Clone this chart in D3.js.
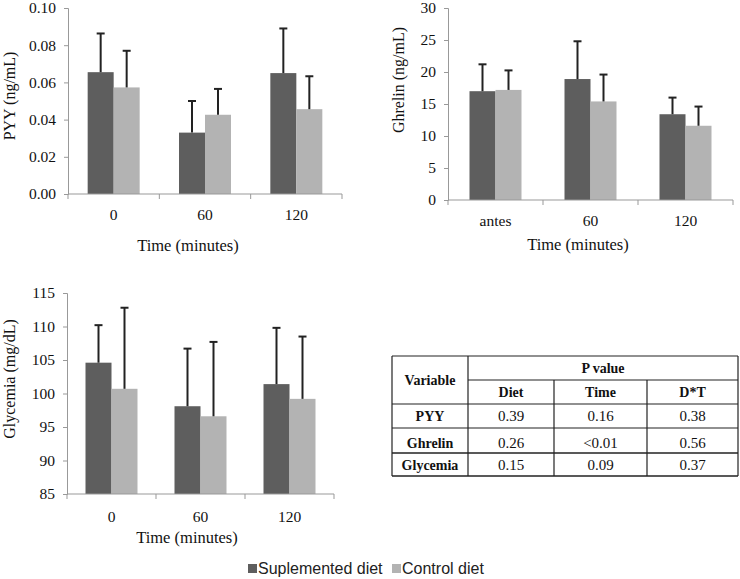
<!DOCTYPE html>
<html><head><meta charset="utf-8">
<script src="https://cdn.jsdelivr.net/npm/d3@7"></script>
<style>body{margin:0;background:#fff}svg{display:block}</style>
</head><body>
<svg id="c" width="740" height="579"></svg>
<script>
// ---- data ----
const series = ["Suplemented diet", "Control diet"];
const colors = ["#5e5e5e", "#b3b3b3"];

const pyyCats = ["0", "60", "120"];
const pyySupp = [0.0655, 0.033, 0.065];
const pyySuppErr = [0.0208, 0.017, 0.024];
const pyyCtrl = [0.0573, 0.0426, 0.0456];
const pyyCtrlErr = [0.0197, 0.0139, 0.0177];
const pyyTicks = [0, 0.02, 0.04, 0.06, 0.08, 0.10];

const ghrCats = ["antes", "60", "120"];
const ghrSupp = [17.0, 18.9, 13.4];
const ghrSuppErr = [4.2, 5.9, 2.6];
const ghrCtrl = [17.2, 15.4, 11.6];
const ghrCtrlErr = [3.05, 4.2, 3.0];
const ghrTicks = [0, 5, 10, 15, 20, 25, 30];

const glyCats = ["0", "60", "120"];
const glySupp = [104.6, 98.1, 101.4];
const glySuppErr = [5.6, 8.6, 8.4];
const glyCtrl = [100.7, 96.6, 99.2];
const glyCtrlErr = [12.1, 11.1, 9.3];
const glyTicks = [85, 90, 95, 100, 105, 110, 115];

const tableVars = ["PYY", "Ghrelin", "Glycemia"];
const tableCols = ["Diet", "Time", "D*T"];
const pDiet = ["0.39", "0.26", "0.15"];
const pTime = ["0.16", "<0.01", "0.09"];
const pDT = ["0.38", "0.56", "0.37"];

// ---- drawing ----
const svg = d3.select("#c");
const serif = "'Liberation Serif', 'Times New Roman', serif";

function chart(o) {
  const g = svg.append("g");
  const x = d3.scaleBand().domain(o.cats).range([o.x0, o.x1]).paddingInner(0).paddingOuter(0);
  const y = d3.scaleLinear().domain(o.domain).range([o.yb, o.yt]);
  const bw = 26;
  const sub = d3.scaleBand().domain([0, 1]).range([0, 2 * bw]);
  const data = [];
  o.cats.forEach((c, i) => {
    data.push({c, s: 0, v: o.a[i], e: o.ae[i]});
    data.push({c, s: 1, v: o.b[i], e: o.be[i]});
  });
  const bx = d => x(d.c) + x.bandwidth() / 2 - bw + sub(d.s);
  g.selectAll("rect.bar").data(data).join("rect")
    .attr("x", bx).attr("width", bw)
    .attr("y", d => y(d.v)).attr("height", d => y(o.domain[0]) - y(d.v))
    .attr("fill", d => colors[d.s]);
  // error bars
  const eb = g.selectAll("g.err").data(data).join("g");
  eb.append("line").attr("x1", d => bx(d) + bw / 2).attr("x2", d => bx(d) + bw / 2)
    .attr("y1", d => y(d.v)).attr("y2", d => y(d.v + d.e))
    .attr("stroke", "#222").attr("stroke-width", 2);
  eb.append("line").attr("x1", d => bx(d) + bw / 2 - 4).attr("x2", d => bx(d) + bw / 2 + 4)
    .attr("y1", d => y(d.v + d.e)).attr("y2", d => y(d.v + d.e))
    .attr("stroke", "#222").attr("stroke-width", 2);
  // y axis
  const ya = g.append("g").attr("transform", `translate(${o.x0},0)`)
    .call(d3.axisLeft(y).tickValues(o.ticks).tickFormat(o.fmt).tickSize(4).tickPadding(8));
  ya.select(".domain").attr("stroke", "#999");
  ya.selectAll(".tick line").attr("stroke", "#999");
  ya.selectAll(".tick text").attr("font-family", serif).attr("font-size", 15.5).attr("fill", "#111");
  // x axis
  const xa = g.append("g").attr("transform", `translate(0,${o.yb})`);
  xa.append("line").attr("x1", o.x0).attr("x2", o.x1).attr("stroke", "#999");
  const bounds = o.cats.map(c => x(c)).concat([o.x1]);
  xa.selectAll("line.t").data(bounds).join("line")
    .attr("x1", d => d).attr("x2", d => d).attr("y1", 0).attr("y2", 5).attr("stroke", "#999");
  xa.selectAll("text").data(o.cats).join("text")
    .attr("x", c => x(c) + x.bandwidth() / 2).attr("y", o.xly - o.yb)
    .attr("text-anchor", "middle").attr("font-family", serif).attr("font-size", 15.5).attr("fill", "#111")
    .text(c => c);
  g.append("text").attr("x", o.xtx).attr("y", o.xty).attr("text-anchor", "middle")
    .attr("font-family", serif).attr("font-size", 16.5).attr("fill", "#111").text("Time (minutes)");
  g.append("text").attr("transform", `translate(${o.ytx},${o.yty}) rotate(-90)`)
    .attr("text-anchor", "middle").attr("font-family", serif).attr("font-size", 16).attr("fill", "#111")
    .text(o.ytitle);
}

chart({cats: pyyCats, a: pyySupp, ae: pyySuppErr, b: pyyCtrl, be: pyyCtrlErr,
  domain: [0, 0.10], ticks: pyyTicks, fmt: d3.format(".2f"),
  x0: 68, x1: 342, yb: 194, yt: 8, xly: 220, xtx: 188, xty: 251,
  ytitle: "PYY (ng/mL)", ytx: 15, yty: 96});

chart({cats: ghrCats, a: ghrSupp, ae: ghrSuppErr, b: ghrCtrl, be: ghrCtrlErr,
  domain: [0, 30], ticks: ghrTicks, fmt: d3.format("d"),
  x0: 448, x1: 733, yb: 200, yt: 8, xly: 226, xtx: 578, xty: 250,
  ytitle: "Ghrelin (ng/mL)", ytx: 404, yty: 80});

chart({cats: glyCats, a: glySupp, ae: glySuppErr, b: glyCtrl, be: glyCtrlErr,
  domain: [85, 115], ticks: glyTicks, fmt: d3.format("d"),
  x0: 67, x1: 334, yb: 494, yt: 293, xly: 522, xtx: 187, xty: 543,
  ytitle: "Glycemia (mg/dL)", ytx: 15, yty: 379});

// legend
const lg = svg.append("g");
const lx = [248, 392];
series.forEach((s, i) => {
  lg.append("rect").attr("x", lx[i]).attr("y", 564).attr("width", 9).attr("height", 9).attr("fill", colors[i]);
  lg.append("text").attr("x", lx[i] + 10).attr("y", 574)
    .attr("font-family", "'Liberation Sans', Arial, sans-serif").attr("font-size", 16).attr("fill", "#222")
    .text(s);
});

// table
const t = svg.append("g");
const colX = [392, 468, 554, 647, 738];
const rowY = [356, 380, 404, 428, 453, 476];
const ln = (x1, y1, x2, y2, w) => t.append("line").attr("x1", x1).attr("y1", y1).attr("x2", x2).attr("y2", y2)
  .attr("stroke", "#222").attr("stroke-width", w || 1.2);
ln(colX[0], rowY[0], colX[4], rowY[0]);
ln(colX[1], rowY[1], colX[4], rowY[1]);
ln(colX[0], rowY[2], colX[4], rowY[2]);
ln(colX[0], rowY[3], colX[4], rowY[3]);
ln(colX[0], rowY[4], colX[4], rowY[4], 1.6);
ln(colX[0], rowY[5], colX[4], rowY[5], 1.6);
ln(colX[0], rowY[0], colX[0], rowY[5]);
ln(colX[4], rowY[0], colX[4], rowY[5]);
ln(colX[1], rowY[0], colX[1], rowY[5]);
ln(colX[2], rowY[1], colX[2], rowY[5]);
ln(colX[3], rowY[1], colX[3], rowY[5]);
const tx = (x, y, s, bold) => t.append("text").attr("x", x).attr("y", y).attr("text-anchor", "middle")
  .attr("font-family", serif).attr("font-size", bold ? 14 : 15).attr("font-weight", bold ? "bold" : "normal")
  .attr("fill", "#111").text(s);
const cx = i => (colX[i] + colX[i + 1]) / 2;
tx(cx(0), 385, "Variable", true);
tx((colX[1] + colX[4]) / 2, 373, "P value", true);
tableCols.forEach((c, i) => tx(cx(i + 1), 397, c, true));
const cols = [pDiet, pTime, pDT];
tableVars.forEach((v, r) => {
  const yy = (rowY[r + 2] + rowY[r + 3]) / 2 + 5;
  tx(cx(0), yy + (r === 1 ? 2 : 0), v, true);
  cols.forEach((arr, c) => tx(cx(c + 1), yy + (r === 1 ? 2 : 0), arr[r], false));
});
</script>
</body></html>
